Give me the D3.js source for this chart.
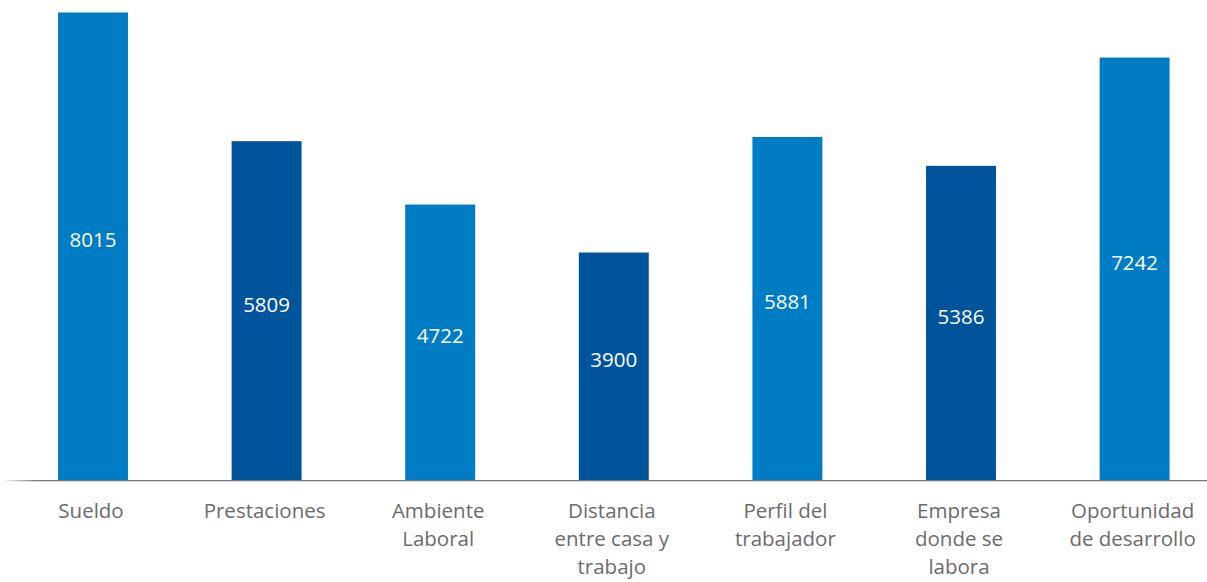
<!DOCTYPE html>
<html>
<head>
<meta charset="utf-8">
<script src="https://cdn.jsdelivr.net/npm/d3@7/dist/d3.min.js"></script>
<style>
  html, body { margin: 0; padding: 0; background: #ffffff; }
  svg { display: block; }
</style>
</head>
<body>
<script>
// Motivos considerados al elegir empleo (número de respuestas)
const categories = [
  ["Sueldo"],
  ["Prestaciones"],
  ["Ambiente", "Laboral"],
  ["Distancia", "entre casa y", "trabajo"],
  ["Perfil del", "trabajador"],
  ["Empresa", "donde se", "labora"],
  ["Oportunidad", "de desarrollo"]
];
const values = [8015, 5809, 4722, 3900, 5881, 5386, 7242];
const shades = ["light", "dark", "light", "dark", "light", "dark", "light"];

const W = 1207, H = 582;
const baseY = 480, topY = 12.5;
const palette = { light: "#007cc4", dark: "#00549b" };

const svg = d3.select("body").append("svg")
  .attr("width", W).attr("height", H);

const keys = categories.map(c => c.join(" "));

const x = d3.scaleBand()
  .domain(keys)
  .range([6.2, 1221.4])
  .paddingInner(0.597)
  .paddingOuter(0.2985);

const y = d3.scaleLinear()
  .domain([0, d3.max(values)])
  .range([baseY, topY]);

const rows = keys.map((k, i) => ({ key: k, lines: categories[i], value: values[i], shade: shades[i] }));

// bars
svg.append("g").selectAll("rect")
  .data(rows)
  .join("rect")
  .attr("x", d => x(d.key))
  .attr("y", d => y(d.value))
  .attr("width", x.bandwidth())
  .attr("height", d => y(0) - y(d.value))
  .attr("fill", d => palette[d.shade]);

// value labels, centred in each bar
svg.append("g").selectAll("text")
  .data(rows)
  .join("text")
  .attr("x", d => x(d.key) + x.bandwidth() / 2)
  .attr("y", d => (y(d.value) + y(0)) / 2 + 1)
  .attr("text-anchor", "middle")
  .attr("font-family", "'Open Sans', sans-serif")
  .attr("font-size", 20.5)
  .attr("fill", "#ffffff")
  .text(d => d.value);

// baseline, fading out at its left end
const axisGrad = svg.append("defs").append("linearGradient")
  .attr("id", "axisFade").attr("x1", "0").attr("x2", "1");
axisGrad.append("stop").attr("offset", "0").attr("stop-color", "#7a7a7a").attr("stop-opacity", 0.15);
axisGrad.append("stop").attr("offset", "0.025").attr("stop-color", "#7a7a7a").attr("stop-opacity", 1);
axisGrad.append("stop").attr("offset", "1").attr("stop-color", "#7a7a7a").attr("stop-opacity", 1);

svg.append("rect")
  .attr("x", 6).attr("y", y(0))
  .attr("width", W - 6).attr("height", 1.3)
  .attr("fill", "url(#axisFade)");

// category labels
const labels = svg.append("g").selectAll("text")
  .data(rows)
  .join("text")
  .attr("text-anchor", "middle")
  .attr("font-family", "'Open Sans', sans-serif")
  .attr("font-size", 20.5)
  .attr("fill", "#6b6b6b");

labels.selectAll("tspan")
  .data(d => d.lines.map(l => ({ l, cx: x(d.key) + x.bandwidth() / 2 - 2 })))
  .join("tspan")
  .attr("x", d => d.cx)
  .attr("y", (d, i) => 518 + i * 28)
  .text(d => d.l);
</script>
</body>
</html>
